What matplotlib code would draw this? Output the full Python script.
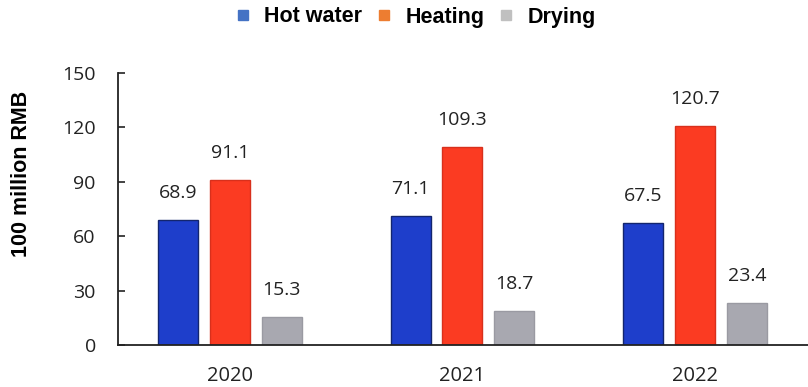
import matplotlib
matplotlib.use("Agg")
import matplotlib.pyplot as plt
from matplotlib.lines import Line2D
import numpy as np

years = ["2020", "2021", "2022"]
series_names = ["Hot water", "Heating", "Drying"]
hot_water = [68.9, 71.1, 67.5]
heating = [91.1, 109.3, 120.7]
drying = [15.3, 18.7, 23.4]
y_ticks = [0, 30, 60, 90, 120, 150]

bar_colors = ["#1e3ecb", "#fb3b22", "#a8a8b0"]
edge_colors = ["#13256e", "#d8301c", "#9a9aa2"]
legend_colors = ["#4472c4", "#ed7d31", "#c0c0c0"]

fig = plt.figure(figsize=(8.08, 3.87), dpi=100)
ax = fig.add_axes([118 / 808, 42 / 387, 690 / 808, 272 / 387])

x = np.arange(len(years))
width = 0.172
offsets = [-0.223, 0.0, 0.223]
values = [hot_water, heating, drying]

num_font = "Open Sans"
for vals, off, c, ec in zip(values, offsets, bar_colors, edge_colors):
    bars = ax.bar(x + off, vals, width, color=c, edgecolor=ec, linewidth=1.0, zorder=2)
    for b, v in zip(bars, vals):
        ax.annotate(f"{v:.1f}", (b.get_x() + b.get_width() / 2, v),
                    xytext=(0, 13), textcoords="offset points",
                    ha="center", va="bottom", fontsize=14,
                    family=num_font, color="#222222")

ax.set_xlim(-0.48, 2.485)
ax.set_ylim(0, 150)
ax.set_yticks(y_ticks)
ax.set_yticklabels([str(t) for t in y_ticks], family=num_font, fontsize=14, color="#222222")
ax.set_xticks(x)
ax.set_xticklabels(years, family=num_font, fontsize=14.5, color="#222222")
ax.tick_params(axis="y", direction="in", length=5, width=1.2, pad=16, colors="#222222")
ax.tick_params(axis="x", length=0, pad=15)

for side in ("top", "right"):
    ax.spines[side].set_visible(False)
ax.spines["left"].set_linewidth(1.3)
ax.spines["bottom"].set_linewidth(1.3)
ax.spines["left"].set_color("#222222")
ax.spines["bottom"].set_color("#222222")

ax.set_ylabel("100 million RMB", family="Liberation Sans", fontweight="bold", fontsize=15.5)
ax.yaxis.set_label_coords(-0.125, 0.63)

handles = [Line2D([], [], marker="s", linestyle="none", markersize=7.5,
                  markerfacecolor=c, markeredgecolor=c) for c in legend_colors]
fig.legend(handles, series_names, loc="center", bbox_to_anchor=(415 / 808, 1 - 17 / 387),
           ncol=3, frameon=False, handlelength=0.8, handletextpad=0.6, columnspacing=0.6,
           prop={"family": "Liberation Sans", "weight": "bold", "size": 15.5})

fig.savefig("out.png", dpi=100)
